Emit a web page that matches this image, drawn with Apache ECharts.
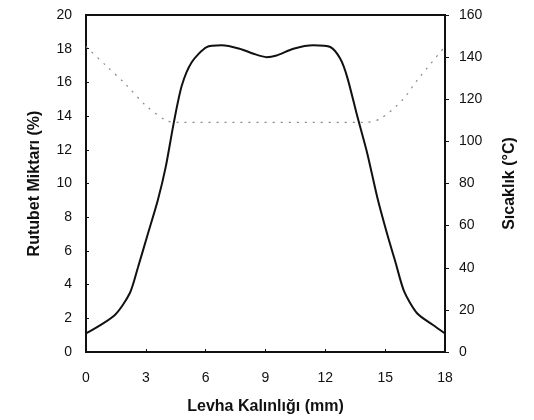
<!DOCTYPE html>
<html>
<head>
<meta charset="utf-8">
<script src="https://cdn.jsdelivr.net/npm/echarts@6/dist/echarts.min.js"></script>
<style>
  html, body { margin: 0; padding: 0; background: #fff; }
  #chart { width: 534px; height: 420px; }
</style>
</head>
<body>
<div id="chart"></div>
<script>
// Levha kalınlığı (mm) boyunca rutubet (%) ve sıcaklık (°C)
const moisture = [
  [0, 1.1], [1.45, 2.2], [2.2, 3.5], [2.6, 5.0], [3.1, 7.0], [3.6, 9.0],
  [4.0, 11.0], [4.4, 13.6], [4.8, 15.8], [5.3, 17.2], [6.05, 18.1], [6.8, 18.2],
  [7.7, 18.0], [8.4, 17.7], [9.05, 17.5], [9.55, 17.6], [10.4, 18.0], [11.4, 18.2],
  [12.25, 18.1], [12.75, 17.4], [13.1, 16.3], [13.6, 14.0], [14.1, 11.8],
  [14.6, 9.2], [15.1, 7.0], [15.5, 5.4], [15.95, 3.6], [16.6, 2.3], [17.4, 1.6],
  [18, 1.1]
];

const temperature = [
  [0, 145], [1, 136], [2, 127], [3, 117], [4, 110], [4.5, 109], [14, 109],
  [14.8, 111], [15.9, 120], [16.6, 129], [18, 145]
];

const xTicks = { min: 0, max: 18, step: 3 };
const leftTicks = { min: 0, max: 20, step: 2 };
const rightTicks = { min: 0, max: 160, step: 20 };

const font = 'Liberation Sans, Arial, sans-serif';

const chart = echarts.init(document.getElementById('chart'));

const labelStyle = { color: '#111', fontSize: 14, fontFamily: font };
const titleStyle = { color: '#111', fontSize: 16, fontWeight: 'bold', fontFamily: font };

chart.setOption({
  animation: false,
  backgroundColor: '#fff',
  grid: {
    left: 86, right: 89, top: 15, bottom: 68,
    show: true, borderColor: '#111', borderWidth: 2, backgroundColor: 'transparent'
  },
  xAxis: {
    type: 'value',
    min: xTicks.min, max: xTicks.max, interval: xTicks.step,
    name: 'Levha Kalınlığı (mm)',
    nameLocation: 'middle', nameGap: 47, nameTextStyle: titleStyle,
    axisLine: { show: true, lineStyle: { color: '#111', width: 2 } },
    axisTick: { show: true, inside: true, length: 3, lineStyle: { color: '#111' } },
    axisLabel: Object.assign({ margin: 19 }, labelStyle),
    splitLine: { show: false }
  },
  yAxis: [
    {
      type: 'value',
      min: leftTicks.min, max: leftTicks.max, interval: leftTicks.step,
      name: 'Rutubet Miktarı (%)',
      nameLocation: 'middle', nameGap: 43, nameTextStyle: titleStyle,
      axisLine: { show: true, lineStyle: { color: '#111', width: 2 } },
      axisTick: { show: true, inside: true, length: 3, lineStyle: { color: '#111' } },
      axisLabel: Object.assign({ margin: 14 }, labelStyle),
      splitLine: { show: false }
    },
    {
      type: 'value',
      min: rightTicks.min, max: rightTicks.max, interval: rightTicks.step,
      name: 'Sıcaklık (°C)',
      nameLocation: 'middle', nameGap: 57, nameRotate: 90, nameTextStyle: titleStyle,
      position: 'right',
      axisLine: { show: true, lineStyle: { color: '#111', width: 2 } },
      axisTick: { show: true, length: 4, lineStyle: { color: '#111' } },
      axisLabel: Object.assign({ margin: 14 }, labelStyle),
      splitLine: { show: false }
    }
  ],
  series: [
    {
      name: 'Rutubet',
      type: 'line',
      yAxisIndex: 0,
      data: moisture,
      smooth: 0.25,
      symbol: 'none',
      lineStyle: { color: '#111', width: 2 }
    },
    {
      name: 'Sıcaklık',
      type: 'line',
      yAxisIndex: 1,
      data: temperature,
      smooth: 0.3,
      symbol: 'none',
      lineStyle: { color: '#888', width: 1.2, type: [2, 6] }
    }
  ]
});
</script>
</body>
</html>
